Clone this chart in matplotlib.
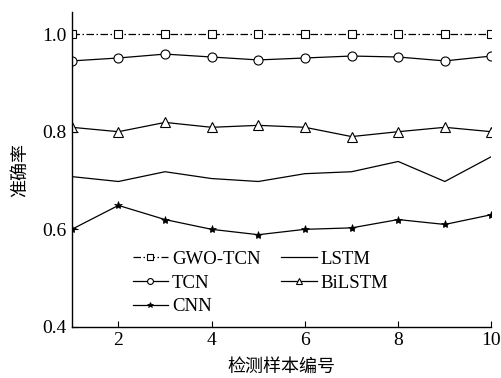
import numpy as np
import matplotlib.pyplot as plt

plt.rcParams['font.family'] = ['Liberation Serif', 'Noto Sans CJK SC']
plt.rcParams['font.size'] = 14

# sample index and accuracy per model
samples = np.arange(1, 11)
gwo_tcn = [1.0, 1.0, 1.0, 1.0, 1.0, 1.0, 1.0, 1.0, 1.0, 1.0]
tcn = [0.945, 0.951, 0.959, 0.953, 0.947, 0.951, 0.955, 0.953, 0.945, 0.955]
bilstm = [0.809, 0.800, 0.819, 0.809, 0.813, 0.809, 0.790, 0.800, 0.809, 0.800]
lstm = [0.708, 0.698, 0.718, 0.704, 0.698, 0.714, 0.718, 0.739, 0.698, 0.749]
cnn = [0.600, 0.649, 0.620, 0.600, 0.589, 0.600, 0.603, 0.620, 0.610, 0.630]

fig = plt.figure(figsize=(5.02, 3.78), dpi=100)
ax = fig.add_axes([0.143, 0.135, 0.836, 0.833])

lw = 0.9
ax.plot(samples, gwo_tcn, color='black', lw=lw, ls=(0, (6, 2, 1.2, 2)),
        marker='s', ms=6, mfc='white', mec='black', mew=0.8, label='GWO-TCN')
ax.plot(samples, tcn, color='black', lw=lw, marker='o', ms=6.5,
        mfc='white', mec='black', mew=0.8, label='TCN')
ax.plot(samples, cnn, color='black', lw=lw, marker='*', ms=6,
        mfc='black', mec='black', mew=0.5, label='CNN')
ax.plot(samples, lstm, color='black', lw=lw, label='LSTM')
ax.plot(samples, bilstm, color='black', lw=lw, marker='^', ms=6.5,
        mfc='white', mec='black', mew=0.8, label='BiLSTM')

ax.set_xlim(1, 10)
ax.set_ylim(0.4, 1.045)
ax.set_xticks([2, 4, 6, 8, 10])
ax.set_yticks([0.4, 0.6, 0.8, 1.0])
ax.set_yticklabels(['0.4', '0.6', '0.8', '1.0'])
ax.tick_params(direction='in', length=4, width=0.8, labelsize=14)

ax.spines['top'].set_visible(False)
ax.spines['right'].set_visible(False)
for s in ('left', 'bottom'):
    ax.spines[s].set_linewidth(1.0)

ax.set_xlabel('检测样本编号', fontsize=13, labelpad=7)
ax.set_ylabel('准确率', fontsize=13, labelpad=10)

ax.legend(ncol=2, frameon=False, loc='lower left', bbox_to_anchor=(0.127, 0.013),
          handlelength=1.9, handletextpad=0.2, labelspacing=0.35,
          columnspacing=1.1, borderaxespad=0, fontsize=13.5, markerscale=0.65)

fig.savefig('out.png', dpi=100)
